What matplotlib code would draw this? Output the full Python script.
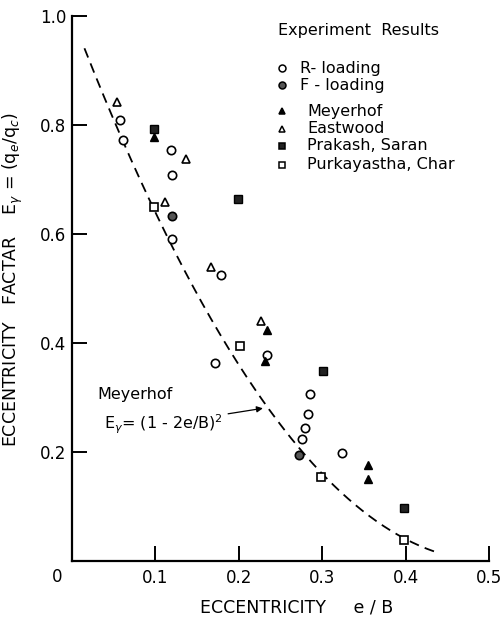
import matplotlib.pyplot as plt
import numpy as np

# values (e/B, E_gamma)
r_e = [0.058, 0.061, 0.119, 0.120, 0.120, 0.171, 0.179, 0.234, 0.286, 0.283, 0.280, 0.276, 0.324]
r_E = [0.810, 0.773, 0.754, 0.708, 0.590, 0.363, 0.524, 0.378, 0.307, 0.269, 0.244, 0.223, 0.198]
f_e = [0.120, 0.272]
f_E = [0.633, 0.194]
mey_e = [0.099, 0.234, 0.231, 0.355, 0.355]
mey_E = [0.778, 0.423, 0.367, 0.176, 0.151]
east_e = [0.054, 0.137, 0.111, 0.167, 0.227]
east_E = [0.842, 0.738, 0.658, 0.539, 0.440]
prak_e = [0.099, 0.199, 0.301, 0.398]
prak_E = [0.792, 0.665, 0.349, 0.097]
purk_e = [0.098, 0.201, 0.299, 0.398]
purk_E = [0.650, 0.395, 0.153, 0.038]

# Meyerhof curve E = (1 - 2e/B)^2, drawn over the range shown
curve_start, curve_end = 0.015, 0.44

x_ticks = [0.1, 0.2, 0.3, 0.4, 0.5]
x_labels = ['0.1', '0.2', '0.3', '0.4', '0.5']
y_ticks = [0.2, 0.4, 0.6, 0.8, 1.0]
y_labels = ['0.2', '0.4', '0.6', '0.8', '1.0']

plt.rcParams['font.family'] = 'DejaVu Sans'

fig = plt.figure(figsize=(5.03, 6.19), dpi=100)
ax = fig.add_axes([0.143, 0.094, 0.829, 0.880])

e = np.linspace(curve_start, curve_end, 200)
ax.plot(e, (1 - 2 * e) ** 2, color='black', lw=1.3, dashes=(5.5, 3.5))

ms = 6
ax.plot(r_e, r_E, 'o', ms=ms, mfc='white', mec='black', mew=1.2, ls='none')
ax.plot(f_e, f_E, 'o', ms=ms, mfc='#555555', mec='black', mew=1.2, ls='none')
ax.plot(mey_e, mey_E, '^', ms=ms, mfc='black', mec='black', ls='none')
ax.plot(east_e, east_E, '^', ms=ms, mfc='white', mec='black', mew=1.2, ls='none')
ax.plot(prak_e, prak_E, 's', ms=ms - 0.8, mfc='#222222', mec='black', ls='none')
ax.plot(purk_e, purk_E, 's', ms=ms - 0.5, mfc='white', mec='black', mew=1.2, ls='none')

ax.set_xlim(0, 0.5)
ax.set_ylim(0, 1.0)
for s in ['top', 'right']:
    ax.spines[s].set_visible(False)
for s in ['left', 'bottom']:
    ax.spines[s].set_linewidth(1.6)

ax.set_xticks(x_ticks)
ax.set_xticklabels(x_labels)
ax.set_yticks(y_ticks)
ax.set_yticklabels(y_labels)
ax.tick_params(axis='both', direction='in', length=11, width=1.4, labelsize=12)
ax.tick_params(axis='x', pad=6)
ax.tick_params(axis='y', pad=4)
ax.text(-0.035, -0.03, '0', transform=ax.transAxes, fontsize=12,
        ha='center', va='center')

ax.set_xlabel('ECCENTRICITY     e / B', fontsize=12.5)
ax.xaxis.set_label_coords(0.54, -0.069)
ax.set_ylabel(r'ECCENTRICITY   FACTAR    E$_\gamma$ = (q$_e$/q$_c$)', fontsize=12.5)
ax.yaxis.set_label_coords(-0.113, 0.516)

# legend drawn by hand
ax.text(0.494, 0.974, 'Experiment  Results', transform=ax.transAxes,
        fontsize=11.5, va='center')
legend_rows = [
    ('o', 'white', 'R- loading', 0.904, 0.547),
    ('o', '#555555', 'F - loading', 0.873, 0.547),
    ('^', 'black', 'Meyerhof', 0.825, 0.564),
    ('^', 'white', 'Eastwood', 0.793, 0.564),
    ('s', '#222222', 'Prakash, Saran', 0.762, 0.564),
    ('s', 'white', 'Purkayastha, Char', 0.727, 0.564),
]
for mk, fc, label, y, tx in legend_rows:
    ax.plot([0.504], [y], mk, ms=5, mfc=fc, mec='black', mew=1.1,
            transform=ax.transAxes, clip_on=False)
    ax.text(tx, y, label, transform=ax.transAxes, fontsize=11.5, va='center')

ax.text(0.030, 0.306, 'Meyerhof', fontsize=11.5, va='center')
ax.annotate(r'E$_\gamma$= (1 - 2e/B)$^2$', xy=(0.229, 0.280), xytext=(0.038, 0.251),
            fontsize=11.5, va='center',
            arrowprops=dict(arrowstyle='-|>', color='black', lw=0.9,
                            mutation_scale=9, shrinkA=2, shrinkB=0))

fig.savefig('out.png', dpi=100)
